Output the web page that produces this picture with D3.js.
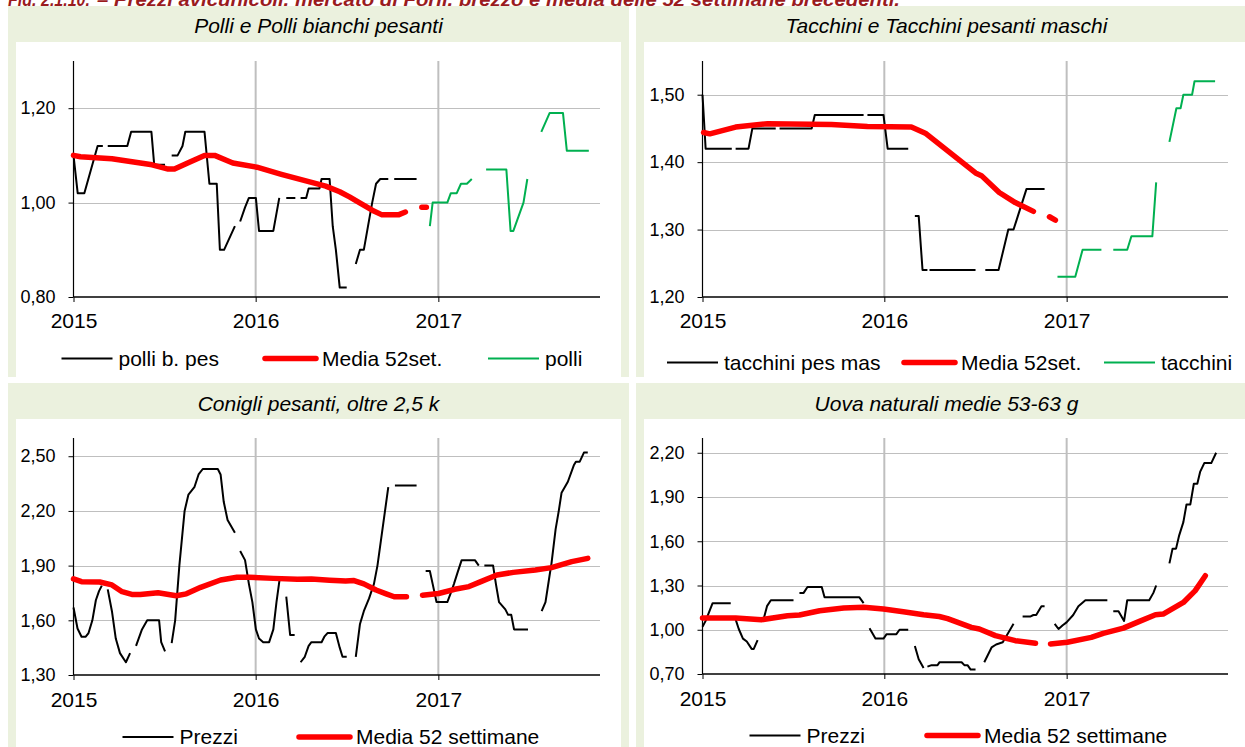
<!DOCTYPE html>
<html><head><meta charset="utf-8">
<script src="https://cdn.jsdelivr.net/npm/d3@7"></script>
<style>
html,body{margin:0;padding:0;background:#fff;overflow:hidden}
svg{display:block}
text{font-family:"Liberation Sans",Arial,sans-serif;fill:#000}
</style></head><body>
<svg id="c" width="1245" height="747"></svg>
<script>
// ---------------- DATA ----------------
const caption = ["Fig. 2.1.10.", "– Prezzi avicunicoli, mercato di Forlì, prezzo e media delle 52 settimane precedenti."];
const titles = ["Polli e Polli bianchi pesanti", "Tacchini e Tacchini pesanti maschi", "Conigli pesanti, oltre 2,5 k", "Uova naturali medie 53-63 g"];
const years = ["2015", "2016", "2017"];
const yearWeeks = [0, 52.14, 104.43];

const ticksPolli = [0.8, 1.0, 1.2];
const ticksTacchini = [1.2, 1.3, 1.4, 1.5];
const ticksConigli = [1.3, 1.6, 1.9, 2.2, 2.5];
const ticksUova = [0.7, 1.0, 1.3, 1.6, 1.9, 2.2];

const legendPolli = ["polli b. pes", "Media 52set.", "polli"];
const legendTacchini = ["tacchini pes mas", "Media 52set.", "tacchini"];
const legendConigli = ["Prezzi", "Media 52 settimane"];
const legendUova = ["Prezzi", "Media 52 settimane"];

// [week since 1 Jan 2015, price]; null = missing weeks
const polliBPes = [[0,1.10],[1.2,1.02],[3.1,1.02],[6.9,1.12],[8.4,1.12],null,[9.8,1.12],[15.4,1.12],[16.5,1.15],[22.3,1.15],[23.1,1.08],[26.2,1.08],null,
  [28.1,1.10],[29.8,1.10],[31.2,1.12],[32,1.15],[37.5,1.15],[38.9,1.04],[41,1.04],[41.9,0.90],[43.1,0.90],[46.2,0.95],null,
  [47.7,0.96],[49.1,0.99],[50.2,1.01],[52.2,1.01],[53.1,0.94],[57.2,0.94],[58.9,1.01],null,[60.9,1.01],[63.5,1.01],null,
  [65,1.01],[66.6,1.01],[67.3,1.03],[70.4,1.03],[71,1.05],[73.3,1.05],[74.2,0.95],[75.1,0.90],[76.2,0.82],[78.2,0.82],null,
  [80.8,0.87],[82,0.90],[83.1,0.90],[84.3,0.95],[85.5,1.00],[86.6,1.04],[87.8,1.05],[90.1,1.05],null,[91.8,1.05],[98.2,1.05]];
const polliMedia = [[0,1.10],[2,1.097],[11,1.093],[22.5,1.08],[27.1,1.071],[28.9,1.071],[33,1.085],[37.5,1.10],[40.4,1.10],[45.6,1.084],
  [52.5,1.075],[59.5,1.06],[67.6,1.044],[72.2,1.035],[76.2,1.023],[79,1.012],[81.8,1.0],[85.5,0.984],[88.3,0.974],[93,0.974],[95,0.98],null,
  [99.7,0.99],[101,0.99]];
const polli = [[102,0.95],[102.8,1.00],[107,1.00],[108,1.02],[109.7,1.02],[110.9,1.04],[112.6,1.04],[114,1.05],null,
  [118.1,1.07],[123.9,1.07],[125.1,0.94],[125.9,0.94],[128.8,1.00],[129.9,1.05],null,
  [133.9,1.15],[136.3,1.19],[140.1,1.19],[141.2,1.11],[147.5,1.11]];

const tacchiniPesMas = [[0,1.50],[0.9,1.42],[8.4,1.42],null,[9.5,1.42],[13.2,1.42],[14.3,1.45],[21,1.45],null,[22.1,1.45],[31.3,1.45],
  [32.2,1.47],[46.2,1.47],null,[47.3,1.47],[51.9,1.47],[53.1,1.42],[59,1.42],null,[60.9,1.32],[62,1.32],[63.1,1.24],[64.5,1.24],null,
  [65.1,1.24],[78.3,1.24],null,[81.1,1.24],[84.9,1.24],[87.7,1.30],[89.2,1.30],[92.9,1.36],[98.1,1.36]];
const tacchiniMedia = [[0.3,1.444],[2.1,1.442],[9.5,1.452],[18.7,1.457],[37,1.456],[47.3,1.453],[59.9,1.452],[63.9,1.443],[78.3,1.384],
  [80,1.38],[85.1,1.355],[89.7,1.34],[94.9,1.327],null,[99.5,1.319],[101.2,1.314]];
const tacchini = [[101.8,1.23],[106.9,1.23],[109,1.27],[114.4,1.27],null,[117.8,1.27],[121.8,1.27],[123,1.29],[129,1.29],[130.1,1.37],null,
  [133.9,1.43],[135.9,1.48],[137.1,1.48],[137.9,1.50],[140.4,1.50],[141.1,1.52],[147,1.52]];

const conigliPrezzi = [[0,1.67],[1.15,1.555],[2.3,1.51],[3.5,1.51],[4.3,1.53],[5.4,1.60],[6.4,1.71],[7.3,1.76],[8.1,1.79],null,
  [9.8,1.77],[11,1.65],[12.1,1.50],[13.3,1.42],[15,1.37],[16.2,1.42],null,
  [17.9,1.46],[19.6,1.55],[21.1,1.60],[24.5,1.60],[25.1,1.48],[26.2,1.43],null,
  [28.1,1.475],[29.1,1.60],[30.3,1.90],[31.8,2.20],[32.9,2.29],[34.6,2.33],[35.8,2.40],[37,2.43],[41.3,2.43],[42.1,2.40],[43,2.25],[44.1,2.15],[46.2,2.08],null,
  [47.7,1.98],[49.1,1.93],[50.2,1.80],[51.2,1.70],[52.2,1.55],[53.1,1.50],[54.3,1.48],[56,1.48],[57.2,1.55],[58.1,1.70],[59.1,1.84],null,
  [60.9,1.73],[62,1.52],[63.3,1.52],null,
  [65,1.37],[66.2,1.40],[67.3,1.46],[68.1,1.48],[71,1.48],[71.8,1.51],[72.7,1.53],[75.1,1.53],[76.2,1.45],[77,1.40],[78.2,1.40],null,
  [80.8,1.40],[82,1.58],[83.1,1.65],[84.6,1.72],[86,1.80],[87,1.90],[90.1,2.33],null,
  [92,2.34],[98.2,2.34],null,
  [100.8,1.87],[102,1.87],[102.8,1.80],[103.9,1.70],[107,1.70],[108,1.75],[108.9,1.80],[109.9,1.86],[111.1,1.93],[114.9,1.93],[116,1.90],null,
  [117.6,1.90],[120.1,1.90],[120.9,1.80],[121.8,1.70],[123.6,1.66],[124.4,1.63],[125.3,1.63],[126.1,1.55],[130.1,1.55],null,
  [134,1.65],[135.1,1.70],[136.3,1.85],[136.8,1.91],[138,2.10],[138.9,2.20],[139.7,2.30],[141.5,2.36],[143.2,2.45],[143.8,2.47],[144.9,2.47],[146.1,2.52],[147.2,2.52]];
const conigliMedia = [[0,1.827],[2.3,1.812],[7.5,1.81],[11,1.794],[13.9,1.757],[16.7,1.742],[19.1,1.742],[24.2,1.751],[29.4,1.735],[32.3,1.745],
  [36.4,1.781],[42.1,1.821],[46.8,1.836],[50.2,1.836],[57.2,1.83],[64.1,1.825],[68.1,1.827],[73.3,1.82],[77.9,1.815],[80.3,1.818],[83.1,1.80],
  [86.6,1.766],[89.5,1.745],[91.8,1.729],[95.3,1.729],null,
  [99.9,1.738],[104.5,1.747],[109.1,1.77],[113.2,1.785],[116.6,1.812],[121.2,1.849],[125.9,1.863],[132.2,1.876],[136.8,1.889],[142.6,1.922],[147.2,1.94]];

const uovaPrezzi = [[0,1.02],[0.9,1.06],[2.9,1.18],[8.1,1.18],null,
  [9.5,1.07],[10.4,1.005],[11.6,0.94],[12.7,0.92],[14.1,0.87],[14.7,0.87],[15.8,0.93],null,
  [17.5,1.07],[18.5,1.16],[19.6,1.20],[26.1,1.20],null,
  [27.8,1.25],[29,1.25],[30.1,1.29],[34.2,1.29],[35,1.22],[45,1.22],[46.2,1.18],null,
  [47.9,1.01],[49.6,0.94],[51.9,0.94],[52.8,0.97],[55.6,0.97],[56.5,1.00],[59,1.00],null,
  [60.9,0.89],[62,0.80],[63.4,0.74],null,
  [64.5,0.75],[65.7,0.76],[67.4,0.76],[68,0.78],[74.3,0.78],[75.1,0.76],[76,0.76],[76.9,0.73],[78.3,0.73],null,
  [80.8,0.78],[82.9,0.88],[84.2,0.90],[86.1,0.915],[87.7,0.98],[89.2,1.04],null,
  [91.8,1.09],[94.1,1.09],[94.9,1.10],[95.7,1.10],[97.2,1.16],[98.1,1.16],null,
  [101,1.04],[102.1,1.005],[103.3,1.03],[104.4,1.05],[106.3,1.10],[107.8,1.16],[109.8,1.20],[116.1,1.20],null,
  [117.8,1.125],[119.3,1.125],[120.9,1.06],[121.8,1.20],[128.1,1.20],[129.3,1.25],[130.1,1.30],null,
  [133.9,1.45],[134.8,1.55],[135.8,1.55],[136.7,1.64],[137.9,1.73],[138.8,1.85],[139.9,1.85],[140.9,1.99],[141.9,1.99],[142.7,2.07],[143.9,2.13],[145.9,2.13],[147.3,2.20]];
const uovaMedia = [[0,1.08],[9.5,1.08],[16.9,1.068],[24.4,1.095],[27.8,1.10],[33.6,1.129],[40.5,1.147],[46.2,1.152],[51.9,1.14],[57.6,1.122],
  [63.4,1.102],[67.9,1.09],[70.3,1.075],[77.1,1.016],[79.4,1.005],[84,0.96],[89.7,0.926],[95.5,0.908],null,
  [99.8,0.903],[104.6,0.915],[111.5,0.948],[114.9,0.976],[120.7,1.011],[125.3,1.057],[129.9,1.102],[132.1,1.106],[137.9,1.185],[141.3,1.265],[144.2,1.366]];

// ---------------- STYLES / LAYOUT ----------------
const BLACK = {color:"#000000", width:2};
const RED = {color:"#ff0000", width:5.5};
const GREEN = {color:"#00b050", width:2};
const BG = "#ebf1de";

const panels = [
  {title:titles[0], box:[8,6,621,371], plot:[73.5,61,600,297], dom:[0.8,1.3], ticks:ticksPolli, titleY:33, xLabY:328,
   series:[[polliBPes,BLACK],[polliMedia,RED],[polli,GREEN]],
   legend:{y:358.5, items:[[legendPolli[0],BLACK,61.5],[legendPolli[1],RED,265],[legendPolli[2],GREEN,488]]}},
  {title:titles[1], box:[636,6,621,371], plot:[702.5,61,1228,297], dom:[1.2,1.55], ticks:ticksTacchini, titleY:33, xLabY:328,
   series:[[tacchiniPesMas,BLACK],[tacchiniMedia,RED],[tacchini,GREEN]],
   legend:{y:362.5, items:[[legendTacchini[0],BLACK,667],[legendTacchini[1],RED,904],[legendTacchini[2],GREEN,1104]]}},
  {title:titles[2], box:[8,383,621,380], plot:[73.5,438,600,675], dom:[1.3,2.6], ticks:ticksConigli, titleY:411, xLabY:707,
   series:[[conigliPrezzi,BLACK],[conigliMedia,RED]],
   legend:{y:737, items:[[legendConigli[0],BLACK,122.5],[legendConigli[1],RED,299]]}},
  {title:titles[3], box:[636,383,621,380], plot:[702.5,438,1228,674], dom:[0.7,2.3], ticks:ticksUova, titleY:411, xLabY:706,
   series:[[uovaPrezzi,BLACK],[uovaMedia,RED]],
   legend:{y:735.5, items:[[legendUova[0],BLACK,749.5],[legendUova[1],RED,927]]}}
];

function hasFont(name){
  const c = document.createElement("canvas").getContext("2d");
  const s = "1,20 abcWWmm";
  c.font = "40px monospace"; const a = c.measureText(s).width;
  c.font = `40px "${name}", monospace`; return c.measureText(s).width !== a;
}
const narrow = hasFont("Liberation Sans Narrow");
const yFont = narrow ? '"Liberation Sans Narrow", "Arial Narrow", sans-serif' : '"Liberation Sans", Arial, sans-serif';
const yFontSize = narrow ? 20 : 18;

const svg = d3.select("#c");

// caption (clipped at the top, as in the reference)
svg.append("text").attr("x",8).attr("y",6).attr("font-size",19).attr("font-style","italic").attr("font-weight","bold")
  .attr("textLength",82).attr("lengthAdjust","spacingAndGlyphs").style("fill","#9a1b1e").text(caption[0]);
svg.append("text").attr("x",97).attr("y",6).attr("font-size",19).attr("font-style","italic").attr("font-weight","bold")
  .attr("textLength",803).attr("lengthAdjust","spacingAndGlyphs").style("fill","#9a1b1e").text(caption[1]);

const fmt = d => d.toFixed(2).replace(".", ",");

panels.forEach(p => {
  const [bx,by,bw,bh] = p.box;
  const [L,T,R,B] = p.plot;
  const g = svg.append("g");
  g.append("rect").attr("x",bx).attr("y",by).attr("width",bw).attr("height",bh).attr("fill",BG);
  g.append("rect").attr("x",bx+8).attr("y",by+36).attr("width",bw-16).attr("height",bh-36).attr("fill","#fff");
  g.append("text").attr("x",bx+bw/2).attr("y",p.titleY).attr("text-anchor","middle")
    .attr("font-size",21).attr("font-style","italic").text(p.title);

  const x = d3.scaleLinear().domain([0,150.7]).range([L,R]);
  const y = d3.scaleLinear().domain(p.dom).range([B,T]);

  // horizontal dotted gridlines
  g.append("g").selectAll("line").data(p.ticks.slice(1)).join("line")
    .attr("x1",L).attr("x2",R).attr("y1",d=>Math.round(y(d))+0.5).attr("y2",d=>Math.round(y(d))+0.5)
    .attr("stroke","#7f7f7f").attr("stroke-width",1).attr("stroke-dasharray","1,1");
  // vertical year lines
  g.append("g").selectAll("line").data(yearWeeks.slice(1)).join("line")
    .attr("x1",d=>x(d)).attr("x2",d=>x(d)).attr("y1",T).attr("y2",B)
    .attr("stroke","#bfbfbf").attr("stroke-width",2);

  // y axis
  const ya = g.append("g").attr("transform",`translate(${L},0)`)
    .call(d3.axisLeft(y).tickValues(p.ticks).tickFormat(fmt).tickSize(5).tickPadding(13));
  ya.select(".domain").remove();
  ya.selectAll("line").attr("stroke","#000");
  ya.selectAll("text").attr("font-family",yFont).attr("font-size",yFontSize).style("fill","#000");
  g.append("line").attr("x1",L).attr("x2",L).attr("y1",T).attr("y2",B).attr("stroke","#000").attr("stroke-width",1.2);

  // x axis
  const xa = g.append("g").attr("transform",`translate(0,${B})`)
    .call(d3.axisBottom(x).tickValues(yearWeeks).tickFormat((d,i)=>years[i]).tickSize(5));
  xa.select(".domain").remove();
  xa.selectAll("line").attr("stroke","#000");
  xa.selectAll("text").attr("font-family",'"Liberation Sans", Arial, sans-serif').attr("font-size",21)
    .attr("dy",null).attr("y",p.xLabY - B).style("fill","#000");
  g.append("line").attr("x1",L).attr("x2",R).attr("y1",B).attr("y2",B).attr("stroke","#000").attr("stroke-width",1.5);

  // series
  const line = d3.line().defined(d => d !== null).x(d => x(d[0])).y(d => y(d[1]));
  p.series.forEach(([data,st]) => {
    g.append("path").attr("d",line(data)).attr("fill","none").attr("stroke",st.color)
      .attr("stroke-width",st.width).attr("stroke-linejoin","round").attr("stroke-linecap", st===RED ? "round" : "butt");
  });

  // legend
  p.legend.items.forEach(([label,st,lx]) => {
    g.append("line").attr("x1",lx).attr("x2",lx+51).attr("y1",p.legend.y).attr("y2",p.legend.y)
      .attr("stroke",st.color).attr("stroke-width",st.width).attr("stroke-linecap", st===RED ? "round" : "butt");
    g.append("text").attr("x",lx+57).attr("y",p.legend.y+7).attr("font-size",21).text(label);
  });
});
</script>
</body></html>
